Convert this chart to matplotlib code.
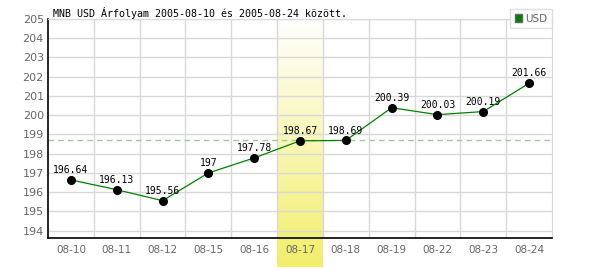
import numpy as np
import matplotlib as mpl
import matplotlib.pyplot as plt
from matplotlib.patches import Patch

# data
dates = ['08-10', '08-11', '08-12', '08-15', '08-16', '08-17',
         '08-18', '08-19', '08-22', '08-23', '08-24']
rates = [196.64, 196.13, 195.56, 197.00, 197.78, 198.67,
         198.69, 200.39, 200.03, 200.19, 201.66]
yticks = list(range(194, 206))
highlight_idx = 5       # 08-17
ref_level = 198.69      # dashed reference line
title = 'MNB USD Árfolyam 2005-08-10 és 2005-08-24 között.'

grid_col = '#d8d8d8'
tick_col = '#666666'

mpl.rcParams['font.family'] = 'DejaVu Sans'

fig = plt.figure(figsize=(6, 2.7), dpi=100)
ax = fig.add_axes([48 / 600, 1 - 238 / 270, 504 / 600, 219 / 270])

x = np.arange(len(dates))
ylo, yhi = 193.62, 205

# highlighted day: white at top -> yellow at bottom, running below the axis
frac = np.linspace(1, 0, 256).reshape(-1, 1, 1)
white = np.array([1.0, 1.0, 1.0])
yellow = np.array([0xf2, 0xee, 0x6a]) / 255
img = white + (yellow - white) * frac
ax.imshow(img, extent=(highlight_idx - 0.5, highlight_idx + 0.5, 192.12, yhi),
          origin='lower', aspect='auto', zorder=0, clip_on=False)

# grid
for yv in yticks:
    ax.axhline(yv, color=grid_col, lw=1, zorder=1)
for xb in x[:-1] + 0.5:
    ax.axvline(xb, color=grid_col, lw=1, zorder=1)

# reference line
ax.axhline(ref_level, color='#99cc99', lw=1, ls=(0, (4, 3)), zorder=2)

# series
ax.plot(x, rates, color='#008000', lw=0.9, zorder=3)
ax.plot(x, rates, 'o', color='black', ms=5.5, zorder=4)
for xi, v in zip(x, rates):
    ax.annotate(f'{v:g}', (xi, v), xytext=(0, 3.5), textcoords='offset points',
                ha='center', va='bottom', fontsize=7, family='DejaVu Sans Mono',
                color='black', zorder=5)

ax.set_xlim(-0.5, len(dates) - 0.5)
ax.set_ylim(ylo, yhi)
ax.set_xticks(x)
ax.set_xticklabels(dates)
ax.set_yticks(yticks)
ax.tick_params(axis='both', length=0, labelsize=7.5, labelcolor=tick_col)
ax.tick_params(axis='x', pad=5)
ax.tick_params(axis='y', pad=3, labelsize=8)

ax.spines['left'].set_color('black')
ax.spines['bottom'].set_color('black')
ax.spines['left'].set_linewidth(1.2)
ax.spines['bottom'].set_linewidth(1.2)
ax.spines['top'].set_color(grid_col)
ax.spines['right'].set_color(grid_col)
for s in ax.spines.values():
    s.set_zorder(6)

fig.text(53 / 600, 1 - 13 / 270, title, fontsize=7.2, family='DejaVu Sans Mono',
         va='center', ha='left', color='black')

leg = fig.legend(handles=[Patch(facecolor='#008000', edgecolor='#666666', label='USD')],
                 loc='upper right', bbox_to_anchor=(552 / 600, 1 - 9 / 270),
                 frameon=True, fancybox=False, fontsize=7.5, handlelength=0.7,
                 handleheight=0.7, handletextpad=0.3, borderpad=0.45,
                 borderaxespad=0)
leg.get_frame().set_edgecolor(grid_col)
leg.get_frame().set_linewidth(1)
for t in leg.get_texts():
    t.set_color(tick_col)

fig.savefig('out.png', dpi=100)
